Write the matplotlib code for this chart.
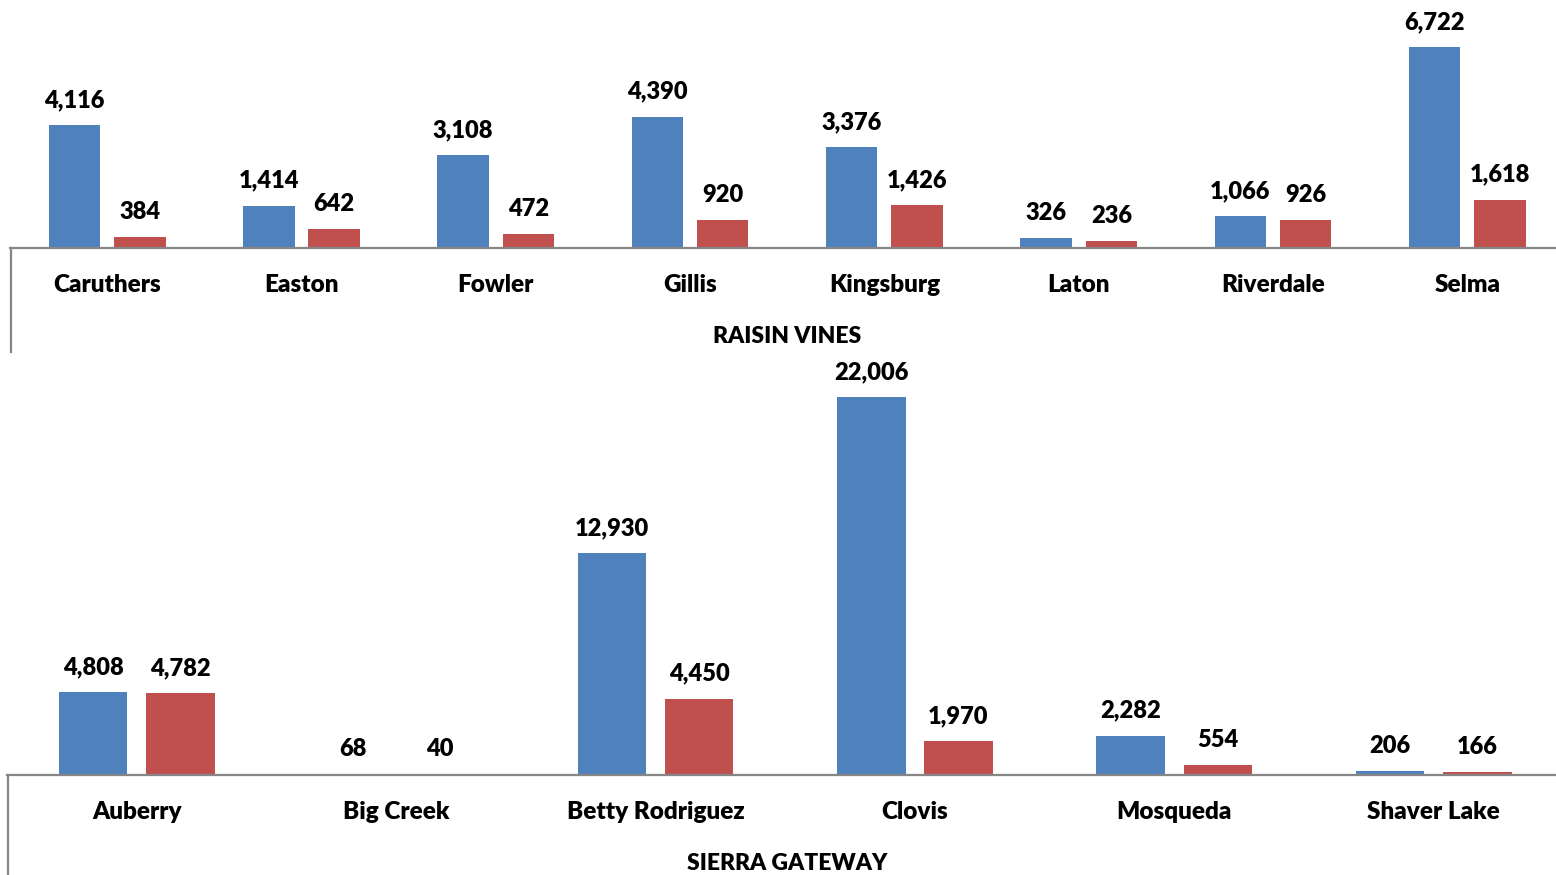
import matplotlib
matplotlib.use("Agg")
import matplotlib.pyplot as plt
from matplotlib.lines import Line2D

plt.rcParams['font.family'] = ['Lato', 'DejaVu Sans']

# Data
raisin_cats = ["Caruthers", "Easton", "Fowler", "Gillis", "Kingsburg", "Laton", "Riverdale", "Selma"]
raisin_blue = [4116, 1414, 3108, 4390, 3376, 326, 1066, 6722]
raisin_red = [384, 642, 472, 920, 1426, 236, 926, 1618]
raisin_group = "RAISIN VINES"

sierra_cats = ["Auberry", "Big Creek", "Betty Rodriguez", "Clovis", "Mosqueda", "Shaver Lake"]
sierra_blue = [4808, 68, 12930, 22006, 2282, 206]
sierra_red = [4782, 40, 4450, 1970, 554, 166]
sierra_group = "SIERRA GATEWAY"

BLUE = "#4F81BD"
RED = "#C0504D"
AXC = "#868686"

W, H = 1556, 875
fig = plt.figure(figsize=(W / 100, H / 100), dpi=100)
px = 72 / 100.0  # points per pixel


def panel(left, right, top, base, ymax, step, cats, blue, red, group, lbl_y, grp_y):
    ax = fig.add_axes([left / W, 1 - base / H, (right - left) / W, (base - top) / H])
    n = len(cats)
    xs = list(range(n))
    bw = 0.265
    off = 0.168
    bx = [x - off for x in xs]
    rx = [x + off for x in xs]
    ax.bar(bx, blue, width=bw, color=BLUE, zorder=2)
    ax.bar(rx, red, width=bw, color=RED, zorder=2)
    ax.set_xlim(-0.5, -0.5 + (right - left) / step)
    ax.set_ylim(0, ymax)
    for s in ['top', 'right', 'left']:
        ax.spines[s].set_visible(False)
    ax.spines['bottom'].set_color(AXC)
    ax.spines['bottom'].set_linewidth(1.6)
    ax.set_xticks([])
    ax.set_yticks([])
    ax.patch.set_alpha(0)
    for x, v in zip(bx, blue):
        ax.annotate(f"{v:,}", xy=(x, v), xytext=(0, 25 * px), textcoords='offset points',
                    ha='center', va='center', fontsize=17, fontweight='heavy', color='black')
    for x, v in zip(rx, red):
        ax.annotate(f"{v:,}", xy=(x, v), xytext=(0, 25 * px), textcoords='offset points',
                    ha='center', va='center', fontsize=17, fontweight='heavy', color='black')
    for x, c in zip(xs, cats):
        ax.annotate(c, xy=(x, 0), xytext=(0, -lbl_y * px), textcoords='offset points',
                    ha='center', va='center', fontsize=17.5, fontweight='heavy', color='black',
                    annotation_clip=False)
    ax.annotate(group, xy=(787 / W, 0), xycoords=('figure fraction', 'axes fraction'),
                xytext=(0, -grp_y * px),
                textcoords='offset points', ha='center', va='center', fontsize=16.5,
                fontweight='heavy', color='black', annotation_clip=False)
    return ax


panel(10, 1556, 0, 248, 248 * 6722 / 201.0, 194.3, raisin_cats, raisin_blue, raisin_red,
      raisin_group, 37, 89)
panel(7, 1556, 360, 775, 415 * 22006 / 378.0, 259.4, sierra_cats, sierra_blue, sierra_red,
      sierra_group, 37, 89)

# left category-axis edge lines
fig.add_artist(Line2D([10.5 / W, 10.5 / W], [1 - 248 / H, 1 - 352 / H], color=AXC, lw=1.6))
fig.add_artist(Line2D([8 / W, 8 / W], [1 - 775 / H, 0], color=AXC, lw=1.6))

fig.savefig("out.png", dpi=100, facecolor='white')
